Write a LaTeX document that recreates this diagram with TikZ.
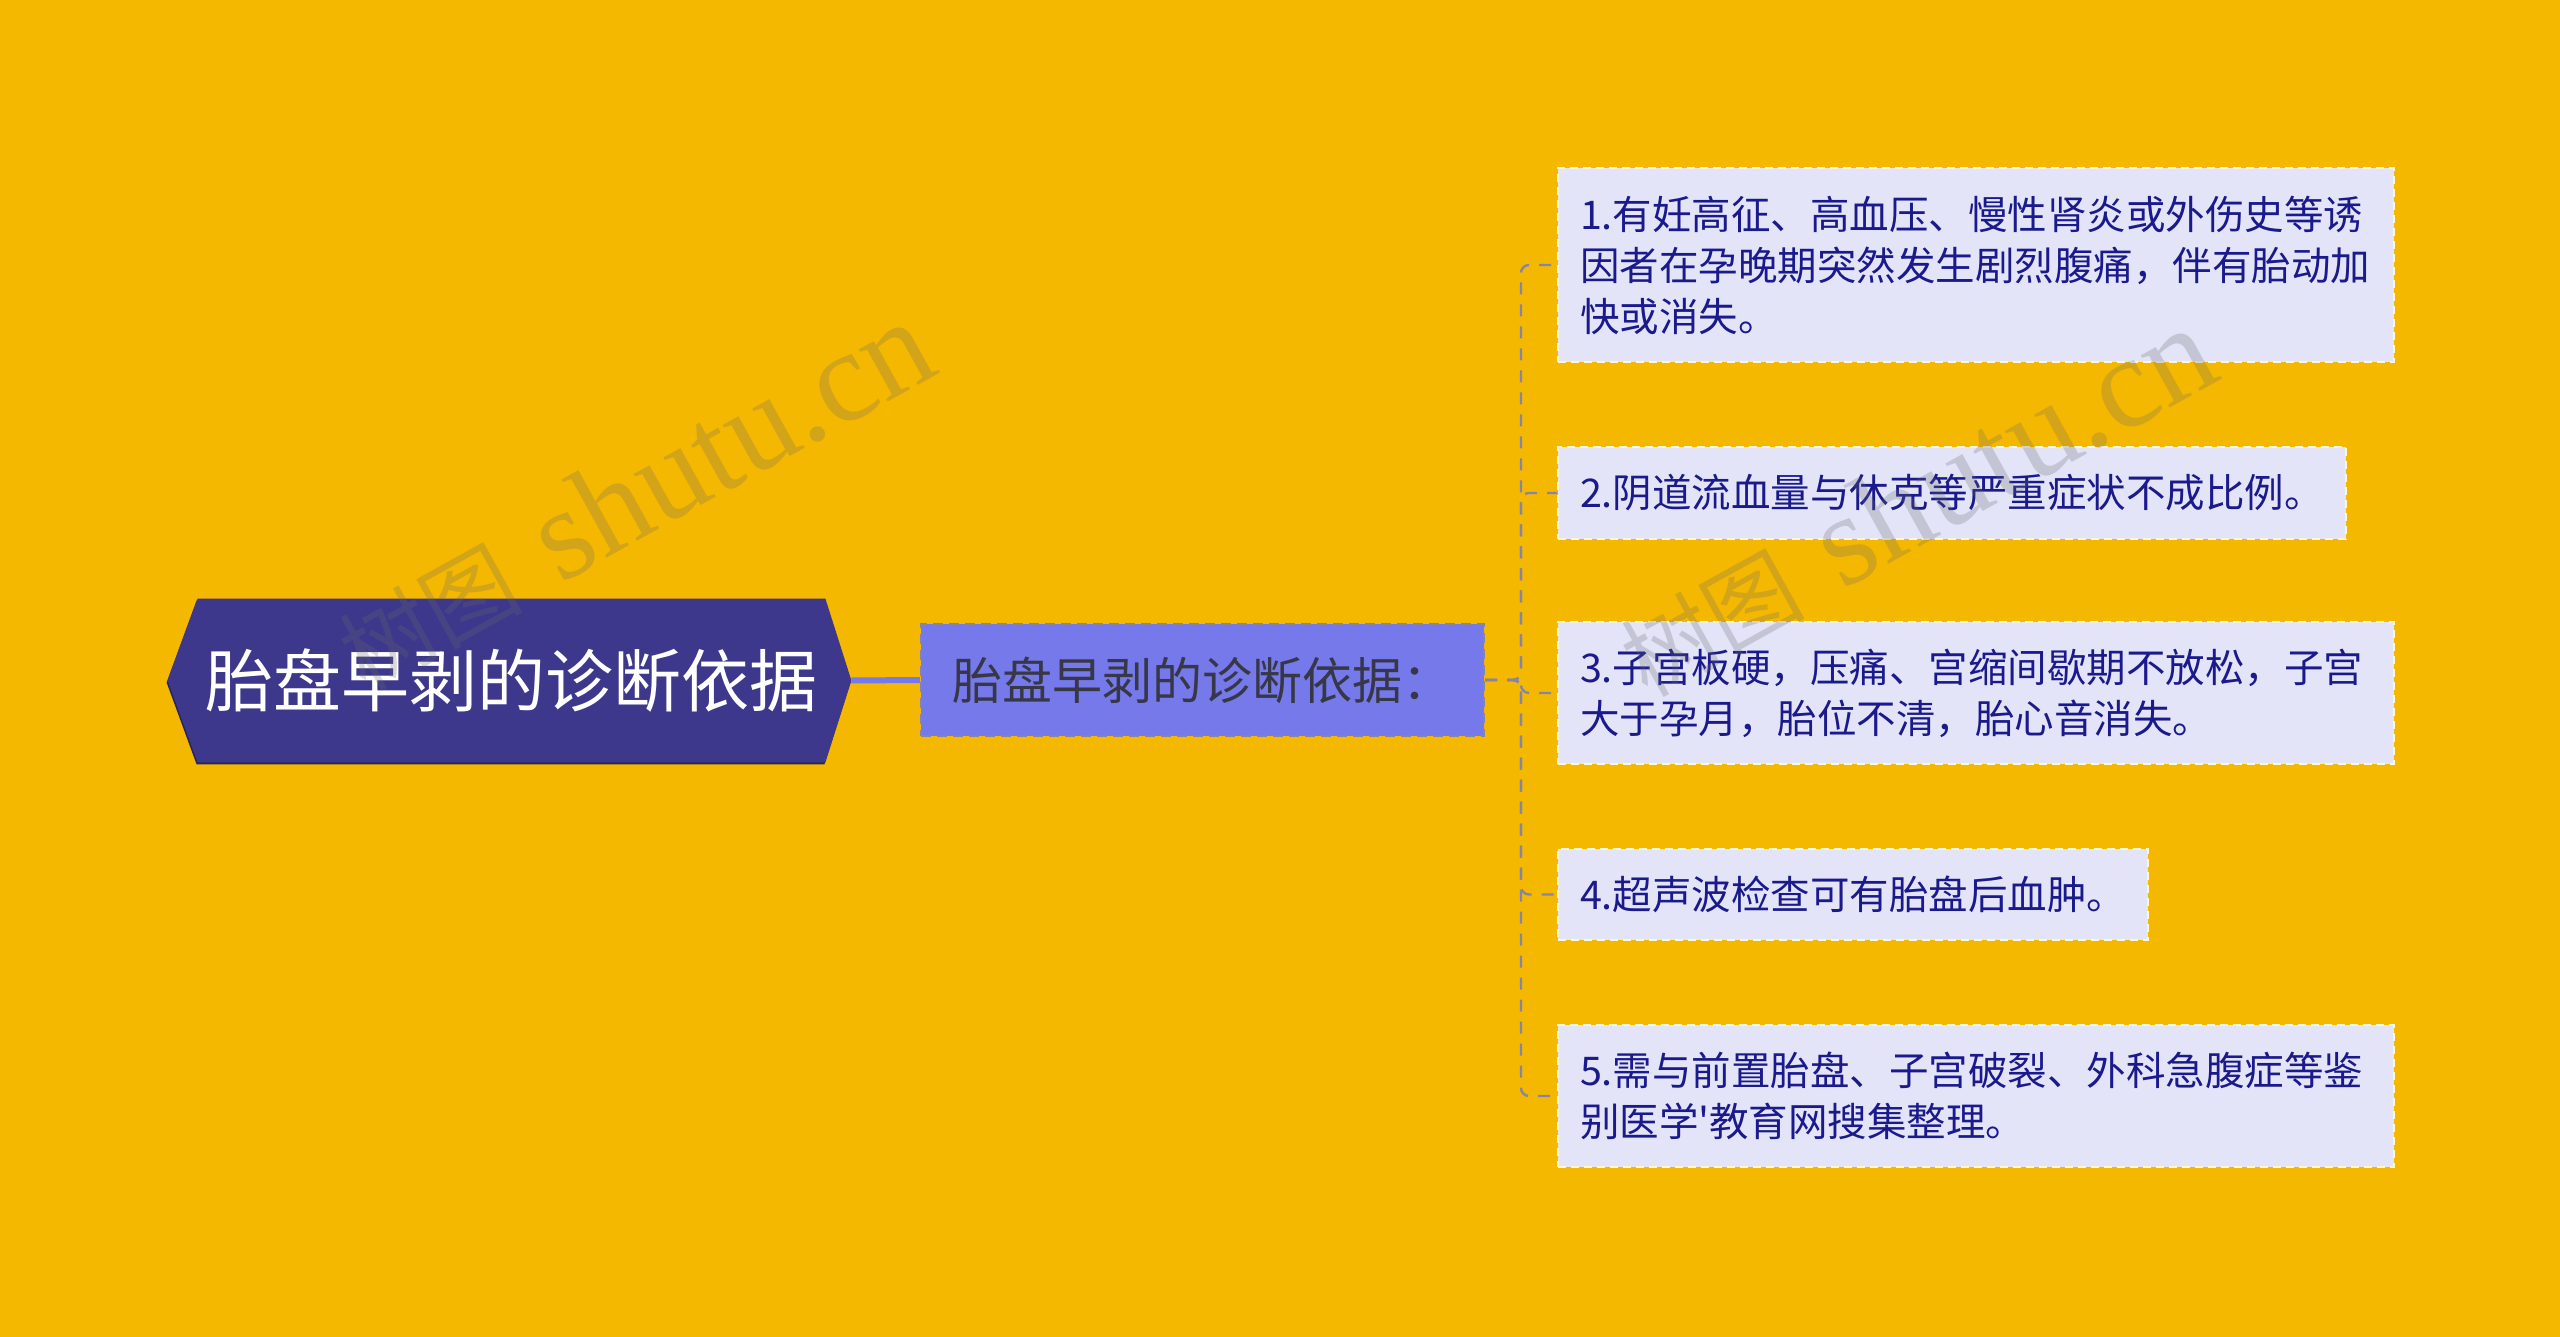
\documentclass[tikz,border=0pt]{standalone}
\usepackage{fontspec}
\newfontfamily\cjk{Noto Sans CJK SC}
\newfontfamily\wmserif{Liberation Serif}
\usetikzlibrary{backgrounds,calc}
\definecolor{bgcol}{RGB}{245,184,0}
\definecolor{rootfill}{RGB}{62,56,140}
\definecolor{rootshade}{RGB}{40,36,96}
\definecolor{midfill}{RGB}{117,121,234}
\definecolor{midtext}{RGB}{55,55,72}
\definecolor{leaffill}{RGB}{227,228,248}
\definecolor{leafborder}{RGB}{255,246,214}
\definecolor{leaftext}{RGB}{26,26,140}
\definecolor{linkcol}{RGB}{133,133,170}
\definecolor{wmgray}{RGB}{105,105,105}
\begin{document}
\begin{tikzpicture}[x=0.5pt,y=-0.5pt,
  roottext/.style={inner sep=0pt, minimum width=313.5pt, minimum height=81.5pt,
    text=white, font=\cjk\fontsize{34pt}{40pt}\selectfont},
  midbox/.style={fill=midfill, draw=linkcol, line width=1pt, dash pattern=on 5pt off 3pt,
    minimum width=281.5pt, minimum height=56pt, inner sep=0pt, text=midtext,
    font=\cjk\fontsize{25pt}{30pt}\selectfont},
  leafbox/.style={fill=leaffill, draw=leafborder, line width=1pt, dash pattern=on 4pt off 2.5pt,
    anchor=west, inner xsep=11pt, inner ysep=0pt, align=left, text=leaftext,
    font=\cjk\fontsize{19.75pt}{25.5pt}\selectfont},
  rootlink/.style={draw=midfill, line width=3pt},
  link/.style={draw=linkcol, line width=1.2pt, dash pattern=on 6pt off 5pt, rounded corners=4pt},
  wm/.style={text=wmgray, text opacity=0.25, inner sep=0pt, rotate=29,
    font=\fontsize{65pt}{70pt}\selectfont}
]
\useasboundingbox (0,0) rectangle (2560,1337);

% root
\node[roottext] (root) at (511.5,680.5) {胎盘早剥的诊断依据};
\coordinate (rootL) at ($(root.west)+(-30,0)$);
\coordinate (rootR) at ($(root.east)+(26,0)$);
\begin{scope}[on background layer]
  \fill[bgcol] (0,0) rectangle (2560,1337);
  \fill[rootshade] ($(root.north west)+(-1,2)$) -- ($(root.north east)+(-1,2)$) -- ($(rootR)+(-1,2)$)
    -- ($(root.south east)+(-1,2)$) -- ($(root.south west)+(-1,2)$) -- ($(rootL)+(-1,2)$) -- cycle;
  \fill[rootfill] (root.north west) -- (root.north east) -- (rootR) -- (root.south east)
    -- (root.south west) -- (rootL) -- cycle;
\end{scope}

% middle
\node[midbox] (mid) at (1202.5,680) {胎盘早剥的诊断依据：};
\draw[rootlink] (rootR) -- (mid.west);

% leaves
\node[leafbox, minimum height=97pt, text width=396pt] (l1) at (1557,265)
  {1.有妊高征、高血压、慢性肾炎或外伤史等诱\\因者在孕晚期突然发生剧烈腹痛，伴有胎动加\\快或消失。};
\node[leafbox, minimum height=46pt] (l2) at (1557,493)
  {2.阴道流血量与休克等严重症状不成比例。};
\node[leafbox, minimum height=71pt, text width=396pt] (l3) at (1557,693)
  {3.子宫板硬，压痛、宫缩间歇期不放松，子宫\\大于孕月，胎位不清，胎心音消失。};
\node[leafbox, minimum height=45.5pt] (l4) at (1557,894.5)
  {4.超声波检查可有胎盘后血肿。};
\node[leafbox, minimum height=71pt, text width=396pt] (l5) at (1557,1096)
  {5.需与前置胎盘、子宫破裂、外科急腹症等鉴\\别医学'教育网搜集整理。};

% connectors
\foreach \leaf in {l1,l2,l3,l4,l5}{
  \draw[link] (mid.east) -- ++(36,0) |- (\leaf.west);
}

% watermarks
\node[wm, anchor=base east] (wm1) at (943,372) {{\cjk\fontsize{46pt}{50pt}\selectfont 树图} {\wmserif shutu.cn}};
\node[wm, anchor=base east] (wm2) at (2225,378) {{\cjk\fontsize{46pt}{50pt}\selectfont 树图} {\wmserif shutu.cn}};
\end{tikzpicture}
\end{document}
